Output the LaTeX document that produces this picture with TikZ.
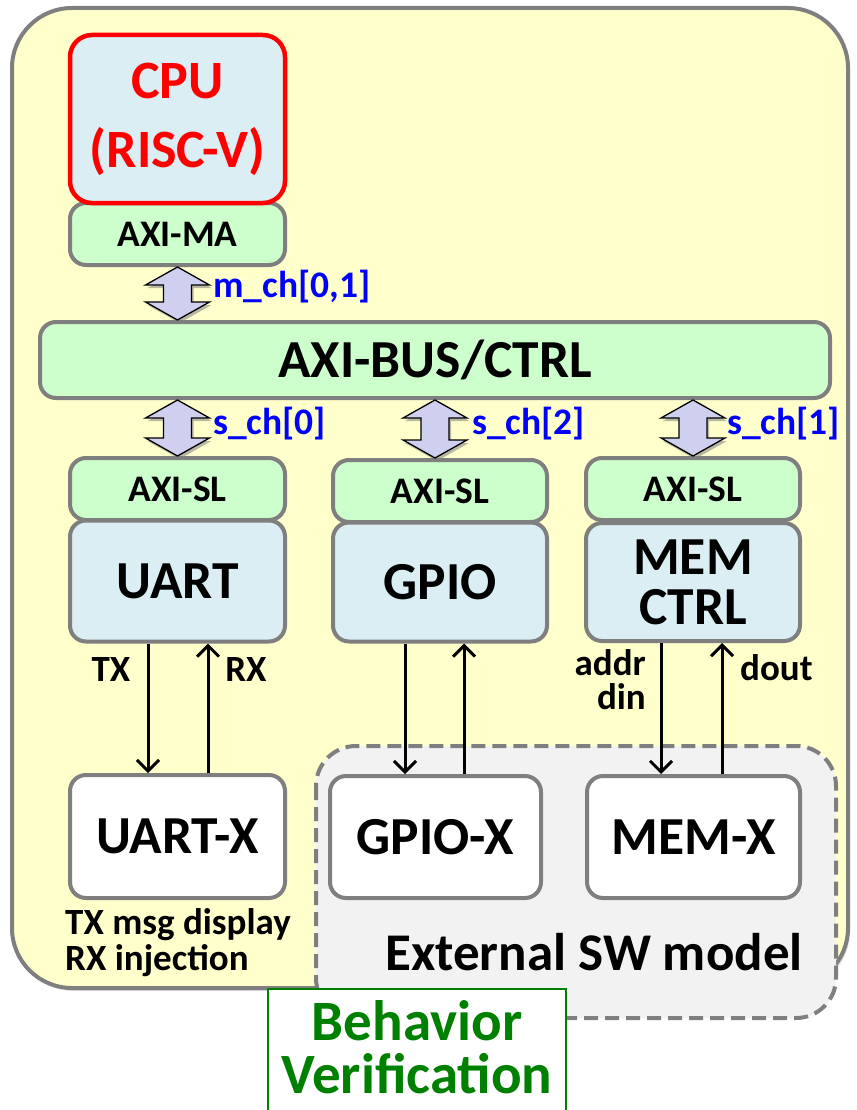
\documentclass[tikz,border=0pt]{standalone}
\usepackage{fontspec}
\setmainfont{Carlito}
\usetikzlibrary{shadows,arrows.meta,calc}

\definecolor{panel}{HTML}{FFFFCC}
\definecolor{edge}{HTML}{7F7F7F}
\definecolor{core}{HTML}{DAEEF3}
\definecolor{port}{HTML}{CCFFCC}
\definecolor{lav}{HTML}{CFCFEF}
\definecolor{swbg}{HTML}{F2F2F2}
\definecolor{chan}{HTML}{0000FF}
\definecolor{verifgreen}{HTML}{008000}

\newcommand\fsz[2]{\fontsize{#1}{#2}\selectfont}

% double-headed block arrow between two points (#1 top, #2 bottom)
\newcommand\busarrow[2]{%
  \path[blockarrow] let \p1=(#1), \p2=(#2) in
    (\x1,\y1) -- (\x1+32pt,\y1-18pt) -- (\x1+14pt,\y1-18pt)
    -- (\x1+14pt,\y2+18pt) -- (\x1+32pt,\y2+18pt) -- (\x1,\y2)
    -- (\x1-32pt,\y2+18pt) -- (\x1-14pt,\y2+18pt)
    -- (\x1-14pt,\y1-18pt) -- (\x1-32pt,\y1-18pt) -- cycle;}

\begin{document}
\begin{tikzpicture}[x=1pt,y=-1pt,
  box/.style={draw=edge, line width=4pt, rounded corners=16pt, inner sep=0pt,
    align=center, font=\bfseries\fsz{53.5}{50}},
  corebox/.style={box, fill=core},
  portbox/.style={box, fill=port, font=\bfseries\fsz{37.5}{37.5}},
  extbox/.style={box, fill=white},
  blockarrow/.style={fill=lav, draw=black, line width=1.3pt,
    drop shadow={shadow xshift=2pt, shadow yshift=-3pt, opacity=0.55}},
  sig/.style={line width=3pt, -{Straight Barb[length=11pt,width=22pt]}},
  lbl/.style={inner sep=0pt, font=\bfseries\fsz{37}{34}},
  chlbl/.style={inner sep=0pt, text=chan, font=\bfseries\fsz{37.5}{37.5}, anchor=base west}]

\useasboundingbox (0,0) rectangle (856,1110);

% system panel
\draw[draw=edge, fill=panel, line width=4pt, rounded corners=60pt,
  drop shadow={shadow xshift=2pt, shadow yshift=-3pt, opacity=0.25}]
  (12,8) rectangle (848,988);

% software model region
\draw[draw=edge, fill=swbg, line width=4pt, rounded corners=40pt,
  dash pattern=on 14pt off 7pt] (316,746) rectangle (836,1018);

% master side
\node[portbox, minimum width=215, minimum height=62] (axima) at (177.5,234) {AXI-MA};
\node[corebox, draw=red, line width=4.5pt, rounded corners=22pt, text=red,
  font=\bfseries\fsz{54}{69}, minimum width=215, minimum height=168]
  (cpu) at (177.5,119) {CPU\\(RISC-V)};

% bus
\node[portbox, font=\bfseries\fsz{53.5}{53.5}, minimum width=790, minimum height=76]
  (bus) at (435,360) {AXI-BUS/CTRL};

% slave ports
\node[portbox, minimum width=215, minimum height=62] (slA) at (177.5,489) {AXI-SL};
\node[portbox, minimum width=214, minimum height=62] (slB) at (440,491) {AXI-SL};
\node[portbox, minimum width=214, minimum height=62] (slC) at (693,489) {AXI-SL};

% peripherals
\node[corebox, minimum width=215, minimum height=121] (uart) at (177.5,581) {UART};
\node[corebox, minimum width=214, minimum height=119] (gpio) at (440,582) {GPIO};
\node[corebox, minimum width=214, minimum height=118] (mem) at (693,582) {MEM\\CTRL};

% external models
\node[extbox, minimum width=215, minimum height=123] (uartx) at (177.5,836.5) {UART-X};
\node[extbox, minimum width=211, minimum height=122] (gpiox) at (435.5,837) {GPIO-X};
\node[extbox, minimum width=213, minimum height=122] (memx) at (693.5,837) {MEM-X};

% bus channels
\busarrow{axima.south}{$(axima.south |- bus.north)$}
\busarrow{$(slA.north |- bus.south)$}{slA.north}
\busarrow{$([xshift=-5pt]slB.north |- bus.south)$}{[xshift=-5pt]slB.north}
\busarrow{$(slC.north |- bus.south)$}{slC.north}

\node[chlbl] (mch) at (213,297) {m\_ch[0,1]};
\node[chlbl] (sch0) at (213,434) {s\_ch[0]};
\node[chlbl] (sch2) at (472,434) {s\_ch[2]};
\node[chlbl] (sch1) at (727,434) {s\_ch[1]};

% signal lines
\draw[sig] ([xshift=-29.5pt]uart.south) -- ([xshift=-29.5pt]uartx.north);
\draw[sig] ([xshift=30.5pt]uartx.north) -- ([xshift=30.5pt]uart.south);
\draw[sig] ([xshift=-35pt]gpio.south) -- ([xshift=-30.5pt]gpiox.north);
\draw[sig] ([xshift=28.5pt]gpiox.north) -- ([xshift=24pt]gpio.south);
\draw[sig] ([xshift=-32pt]mem.south) -- ([xshift=-32.5pt]memx.north);
\draw[sig] ([xshift=28.5pt]memx.north) -- ([xshift=29pt]mem.south);

\node[lbl, anchor=base] (tx) at (111,681) {TX};
\node[lbl, anchor=base] (rx) at (246,681) {RX};
\node[lbl, align=right, anchor=north east] (addr) at (646,649) {addr\\din};
\node[lbl, anchor=base west] (dout) at (740,680) {dout};

\node[lbl, align=left, anchor=north west, font=\bfseries\fsz{37}{36}]
  (uartnote) at (65,908) {TX msg display\\RX injection};
\node[lbl, font=\bfseries\fsz{53}{53}, anchor=base] (swlbl) at (594,970)
  {External SW model};

% verification label
\node[draw=verifgreen, line width=2pt, fill=white, inner sep=0pt,
  minimum width=298, minimum height=126, anchor=north]
  (verif) at (417,988) {};
\node[text=verifgreen, font=\bfseries\fsz{57}{53}, align=center, inner sep=0pt]
  (veriftext) at ($(verif.north)+(0,59)$) {Behavior\\Verification};

\end{tikzpicture}
\end{document}
